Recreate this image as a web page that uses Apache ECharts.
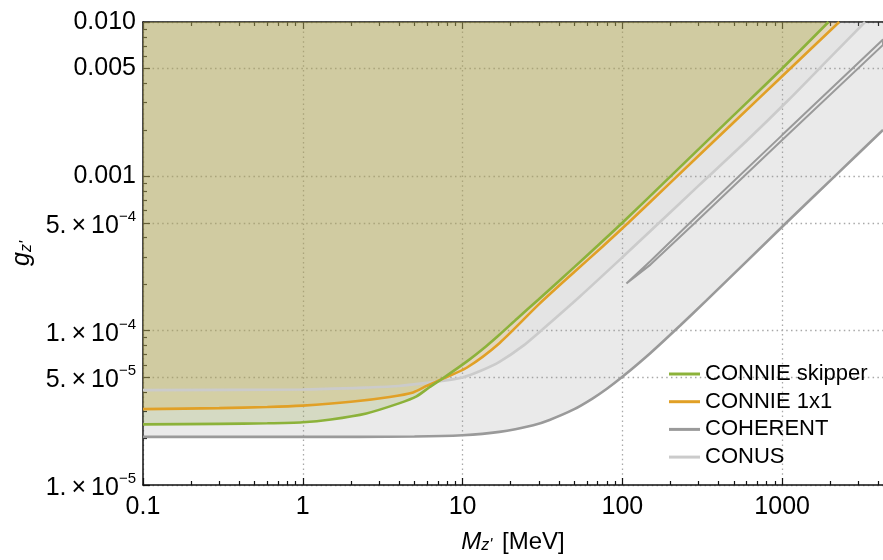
<!DOCTYPE html>
<html>
<head>
<meta charset="utf-8">
<title>Z' limits</title>
<style>
    html, body { margin: 0; padding: 0; background: #fff; }
    #chart { width: 883px; height: 560px; }
</style>
</head>
<body>
<div id="chart"></div>
<script src="https://cdn.jsdelivr.net/npm/echarts@6/dist/echarts.min.js"></script>
<script>
    // curves: [M_Z' (MeV), g_Z']
    var connieSkipper = [[0.1, 2.47e-5], [0.3, 2.49e-5], [0.6, 2.51e-5], [1, 2.55e-5], [1.5, 2.66e-5], [2.5, 2.91e-5], [4, 3.38e-5], [5.15, 3.75e-5], [6.2, 4.3e-5], [7.5, 4.9e-5], [10.6, 6.3e-5], [14, 7.9e-5], [17, 9.4e-5], [22, 1.2e-4], [30, 1.6e-4], [50, 2.58e-4], [70, 3.55e-4], [100, 5.0e-4], [200, 1.0e-3], [500, 2.5e-3], [1000, 5.0e-3], [1950, 1.0e-2]];
    var connie1x1 = [[0.1, 3.1e-5], [0.3, 3.15e-5], [0.6, 3.2e-5], [1, 3.27e-5], [2, 3.46e-5], [3.5, 3.72e-5], [4.9, 3.98e-5], [6, 4.4e-5], [7.56, 4.9e-5], [10.6, 5.75e-5], [17, 8.3e-5], [30, 1.48e-4], [50, 2.4e-4], [75, 3.5e-4], [109, 5.0e-4], [200, 9.1e-4], [500, 2.25e-3], [1000, 4.45e-3], [2275, 1.0e-2]];
    var coherent = [[0.1, 2.05e-5], [1, 2.05e-5], [5, 2.06e-5], [10, 2.1e-5], [17, 2.21e-5], [27.7, 2.44e-5], [35, 2.64e-5], [50, 3.1e-5], [65, 3.63e-5], [80, 4.2e-5], [100, 5.02e-5], [150, 7.17e-5], [230, 1.08e-4], [336, 1.57e-4], [1062, 5.0e-4], [2130, 1.0e-3], [4276, 2.0e-3]];
    var coherentBand = [[106, 2.02e-4], [150, 2.83e-4], [265, 5.0e-4], [1000, 1.85e-3], [4276, 7.7e-3], [4276, 7.1e-3], [1000, 1.72e-3], [285, 5.0e-4], [150, 2.68e-4], [106, 2.02e-4]];
    var conus = [[0.1, 4.12e-5], [1, 4.16e-5], [2.5, 4.28e-5], [4, 4.38e-5], [7.2, 4.71e-5], [10, 4.98e-5], [13, 5.5e-5], [17, 6.28e-5], [24, 8.0e-5], [32, 1.03e-4], [54, 1.66e-4], [100, 2.99e-4], [170, 5.0e-4], [300, 8.7e-4], [600, 1.7e-3], [1091, 3.11e-3], [2000, 5.9e-3], [3300, 1.0e-2]];

    var xTicks = [0.1, 1, 10, 100, 1000];
    var xTickText = ['0.1', '1', '10', '100', '1000'];
    var yTicks = [1e-5, 5e-5, 1e-4, 5e-4, 1e-3, 5e-3, 1e-2];
    var yTickText = ['1.\u2009×\u200910^\u22125', '5.\u2009×\u200910^\u22125', '1.\u2009×\u200910^\u22124', '5.\u2009×\u200910^\u22124', '0.001', '0.005', '0.010'];

    var font = 'Liberation Sans';
    var xMax = 4276;

    function minorTicks(d0, d1, skip, max) {
        var out = [];
        for (var d = d0; d <= d1; d++) {
            for (var k = 2; k <= 9; k++) {
                if (skip.indexOf(k) >= 0) continue;
                var v = k * Math.pow(10, d);
                if (v <= max) out.push(v);
            }
        }
        return out;
    }
    var xMinor = minorTicks(-1, 3, [], xMax);
    var yMinor = minorTicks(-5, -3, [5], 1e-2);

    function pick(v, vals, texts) {
        for (var i = 0; i < vals.length; i++) {
            if (Math.abs(Math.log10(v / vals[i])) < 1e-6) return texts[i];
        }
        return '';
    }

    function frameAxis(pos, isMinor, ticks) {
        return {
            type: 'log', logBase: 10, position: pos,
            min: pos == 'left' || pos == 'right' ? 1e-5 : 0.1,
            max: pos == 'left' || pos == 'right' ? 1e-2 : xMax,
            axisLine: { show: !isMinor, lineStyle: { color: '#111', width: 1.5 } },
            axisTick: { show: true, inside: true, length: isMinor ? 4 : 7, customValues: ticks, lineStyle: { color: '#111', width: 1.2 } },
            axisLabel: { show: false },
            splitLine: { show: false }
        };
    }

    var grid = { left: 143, right: 0, top: 22, bottom: 75 };
    var dotted = { type: [1.5, 3.3], color: '#a8a8a8', width: 1.3 };

    var xMain = frameAxis('bottom', false, xTicks);
    xMain.axisLabel = {
        show: true, customValues: xTicks, margin: 10, color: '#000', fontSize: 25, fontFamily: font,
        formatter: function (v) { return pick(v, xTicks, xTickText); }
    };
    xMain.splitLine = { show: true, lineStyle: dotted };
    xMain.name = '{i|M}{s|z\'} [MeV]';
    xMain.nameLocation = 'middle';
    xMain.nameGap = 45;
    xMain.nameTextStyle = {
        color: '#000', fontSize: 24, fontFamily: font,
        rich: {
            i: { fontSize: 24, fontStyle: 'italic', fontFamily: font, color: '#000' },
            s: { fontSize: 16, fontStyle: 'italic', fontFamily: font, color: '#000', padding: [8, 3, 0, 0] }
        }
    };

    var yMain = frameAxis('left', false, yTicks);
    yMain.axisLabel = {
        show: true, customValues: yTicks, margin: 7, color: '#000', fontSize: 25, fontFamily: font,
        formatter: function (v) {
            var t = pick(v, yTicks, yTickText);
            if (t.indexOf('^') < 0) return t;
            var p = t.split('^');
            return '{b|' + p[0] + '}{s|' + p[1] + '}';
        },
        rich: {
            b: { fontSize: 25, fontFamily: font, color: '#000', padding: [6, 0, 0, 0] },
            s: { fontSize: 15, fontFamily: font, color: '#000', verticalAlign: 'top', padding: [2, 0, 0, 0] }
        }
    };
    yMain.splitLine = { show: true, lineStyle: dotted };
    yMain.name = '{i|g}{s|z\'}';
    yMain.nameLocation = 'middle';
    yMain.nameRotate = 90;
    yMain.nameGap = 108;
    yMain.nameTextStyle = {
        color: '#000', fontSize: 24, fontFamily: font,
        rich: {
            i: { fontSize: 25, fontStyle: 'italic', fontFamily: font, color: '#000' },
            s: { fontSize: 16, fontStyle: 'italic', fontFamily: font, color: '#000', padding: [8, 0, 0, 0] }
        }
    };

    function curve(name, data, color, width, fill) {
        var s = {
            name: name, type: 'line', data: data,
            xAxisIndex: 0, yAxisIndex: 0,
            symbol: 'none', showSymbol: false, silent: true,
            smooth: 0.25,
            itemStyle: { color: color },
            lineStyle: { color: color, width: width }
        };
        if (fill) s.areaStyle = { origin: 'end', color: fill, opacity: 1 };
        return s;
    }

    var myChart = echarts.init(document.getElementById('chart'), null, { renderer: 'canvas' });
    var option = {
        backgroundColor: '#fff',
        animation: false,
        grid: grid,
        legend: {
            data: ['CONNIE skipper', 'CONNIE 1x1', 'COHERENT', 'CONUS'],
            orient: 'vertical', left: 664, top: 358,
            icon: 'rect', itemWidth: 31, itemHeight: 3, itemGap: 5.7,
            textStyle: { fontSize: 22, fontFamily: font, color: '#000' }
        },
        xAxis: [xMain, frameAxis('bottom', true, xMinor), frameAxis('top', false, xTicks), frameAxis('top', true, xMinor)],
        yAxis: [yMain, frameAxis('left', true, yMinor)],
        series: [
            curve('COHERENT', coherent, '#9a9a9a', 2.6, 'rgba(150,150,150,0.2)'),
            curve('COHERENT band', coherentBand, '#9a9a9a', 2, null),
            curve('CONUS', conus, '#cbcbcb', 2.6, 'rgba(180,180,180,0.1)'),
            curve('CONNIE 1x1', connie1x1, '#e1a026', 2.6, 'rgba(225,160,40,0.2)'),
            curve('CONNIE skipper', connieSkipper, '#8cb23a', 2.6, 'rgba(140,165,60,0.22)')
        ]
    };
    // the band's loop must not be smoothed across its ends
    option.series[1].smooth = false;
    myChart.setOption(option);
</script>
</body>
</html>
